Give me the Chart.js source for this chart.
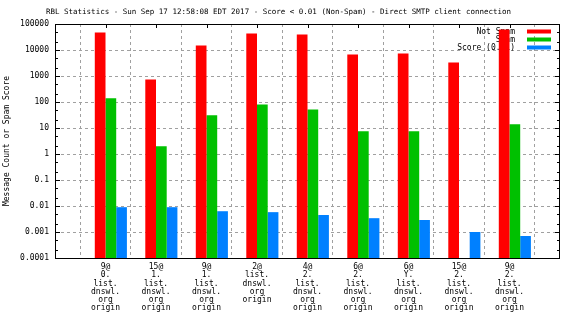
<!DOCTYPE html>
<html>
<head>
<meta charset="utf-8">
<script src="https://cdn.jsdelivr.net/npm/chart.js@4"></script>
<style>
  html, body { margin: 0; padding: 0; background: #fff; }
  canvas { display: block; }
</style>
</head>
<body>
<canvas id="rbl" width="576" height="324"></canvas>
<script>
// RBL hit counts per dnswl list entry, log scale
const titleText = 'RBL Statistics - Sun Sep 17 12:58:08 EDT 2017 - Score < 0.01 (Non-Spam) - Direct SMTP client connection';
const yAxisTitle = 'Message Count or Spam Score';

const categories = [
  ['9@', '0.', 'list.', 'dnswl.', 'org', 'origin'],
  ['15@', '1.', 'list.', 'dnswl.', 'org', 'origin'],
  ['9@', '1.', 'list.', 'dnswl.', 'org', 'origin'],
  ['2@', 'list.', 'dnswl.', 'org', 'origin'],
  ['4@', '2.', 'list.', 'dnswl.', 'org', 'origin'],
  ['6@', '2.', 'list.', 'dnswl.', 'org', 'origin'],
  ['6@', 'Y.', 'list.', 'dnswl.', 'org', 'origin'],
  ['15@', '2.', 'list.', 'dnswl.', 'org', 'origin'],
  ['9@', '2.', 'list.', 'dnswl.', 'org', 'origin']
];
const notSpam = [47000, 740, 15000, 43000, 39500, 6750, 7400, 3300, 61500];
const spam = [138, 2, 31, 81, 52, 7.5, 7.5, null, 14];
const score = [0.009, 0.009, 0.0063, 0.0058, 0.0045, 0.0034, 0.0029, 0.001, 0.0007];

const yTicks = [0.0001, 0.001, 0.01, 0.1, 1, 10, 100, 1000, 10000, 100000];
const yTickLabels = ['0.0001', '0.001', '0.01', '0.1', '1', '10', '100', '1000', '10000', '100000'];
const minorSteps = [2, 5];

const FONT = "'DejaVu Sans Mono', monospace";

// one empty slot on each side of the categories, like gnuplot's xrange
const pad = arr => [null, ...arr, null];
const labels = ['', ...categories, ''];

const gnuplotFrame = {
  id: 'gnuplotFrame',
  beforeDatasetsDraw(chart) {
    // key sits inside the plot, under the bars
    const { ctx, chartArea } = chart;
    ctx.save();
    ctx.font = '8px ' + FONT;
    ctx.textAlign = 'right';
    ctx.textBaseline = 'middle';
    let row = 0;
    chart.data.datasets.forEach(ds => {
      if (!ds.label) return;
      const y = chartArea.top + 7.5 + row * 8;
      ctx.fillStyle = '#000';
      ctx.fillText(ds.label, chartArea.right - 45, y);
      ctx.fillStyle = ds.backgroundColor;
      ctx.fillRect(chartArea.right - 33, y - 2, 24, 4);
      row++;
    });
    ctx.restore();
  },
  afterDatasetsDraw(chart) {
    const { ctx, chartArea: a, scales } = chart;
    ctx.save();
    ctx.strokeStyle = '#000';
    ctx.lineWidth = 1;
    ctx.strokeRect(Math.round(a.left) + 0.5, Math.round(a.top) + 0.5,
      Math.round(a.right - a.left) - 1, Math.round(a.bottom - a.top));
    ctx.beginPath();
    // y ticks, both sides, major and minor
    yTicks.forEach((v, i) => {
      const y = Math.round(scales.y.getPixelForValue(v)) + 0.5;
      ctx.moveTo(a.left, y); ctx.lineTo(a.left + 5, y);
      ctx.moveTo(a.right, y); ctx.lineTo(a.right - 5, y);
      if (i < yTicks.length - 1) {
        minorSteps.forEach(m => {
          const ym = Math.round(scales.y.getPixelForValue(v * m)) + 0.5;
          ctx.moveTo(a.left, ym); ctx.lineTo(a.left + 3, ym);
          ctx.moveTo(a.right, ym); ctx.lineTo(a.right - 3, ym);
        });
      }
    });
    // x ticks on the top edge
    categories.forEach((c, i) => {
      const x = Math.round(scales.x.getPixelForValue(i + 1)) + 0.5;
      ctx.moveTo(x, a.top); ctx.lineTo(x, a.top + 4);
    });
    ctx.stroke();
    ctx.restore();
  },
  afterDraw(chart) {
    const { ctx } = chart;
    ctx.save();
    ctx.font = '7.5px ' + FONT;
    ctx.fillStyle = '#000';
    ctx.textAlign = 'center';
    ctx.textBaseline = 'middle';
    ctx.fillText(titleText, 278.5, 12);
    ctx.restore();
  }
};

new Chart(document.getElementById('rbl'), {
  type: 'bar',
  data: {
    labels: labels,
    datasets: [
      { label: '', data: pad(categories.map(() => null)), backgroundColor: 'rgba(0,0,0,0)' },
      { label: 'Not Spam', data: pad(notSpam), backgroundColor: '#ff0000' },
      { label: 'Spam', data: pad(spam), backgroundColor: '#00c000' },
      { label: 'Score (0..1)', data: pad(score), backgroundColor: '#0080ff' }
    ]
  },
  options: {
    responsive: false,
    animation: false,
    devicePixelRatio: 1,
    layout: { padding: { top: 24, right: 16, left: 0, bottom: 0 } },
    datasets: { bar: { categoryPercentage: 0.848, barPercentage: 1, borderWidth: 0 } },
    plugins: { legend: { display: false }, tooltip: { enabled: false }, title: { display: false } },
    scales: {
      x: {
        offset: false,
        grid: { color: '#a0a0a0', drawTicks: false, lineWidth: 1 },
        border: { display: false, dash: [3, 3] },
        ticks: {
          autoSkip: false, maxRotation: 0, minRotation: 0, padding: 5,
          color: '#000', font: { family: FONT, size: 8, lineHeight: 1.03 }
        },
        afterFit(s) { s.height = 66; }
      },
      y: {
        type: 'logarithmic',
        min: 0.0001,
        max: 100000,
        afterBuildTicks(s) { s.ticks = yTicks.map(v => ({ value: v })); },
        grid: { color: '#a0a0a0', drawTicks: false, lineWidth: 1 },
        border: { display: false, dash: [3, 3] },
        ticks: {
          padding: 6, color: '#000', font: { family: FONT, size: 8 },
          callback: v => yTickLabels[yTicks.indexOf(v)]
        },
        title: {
          display: true, text: yAxisTitle, color: '#000',
          font: { family: FONT, size: 8 }, padding: { top: 2, bottom: 0 }
        },
        afterFit(s) { s.width = 55; }
      }
    }
  },
  plugins: [gnuplotFrame]
});
</script>
</body>
</html>
